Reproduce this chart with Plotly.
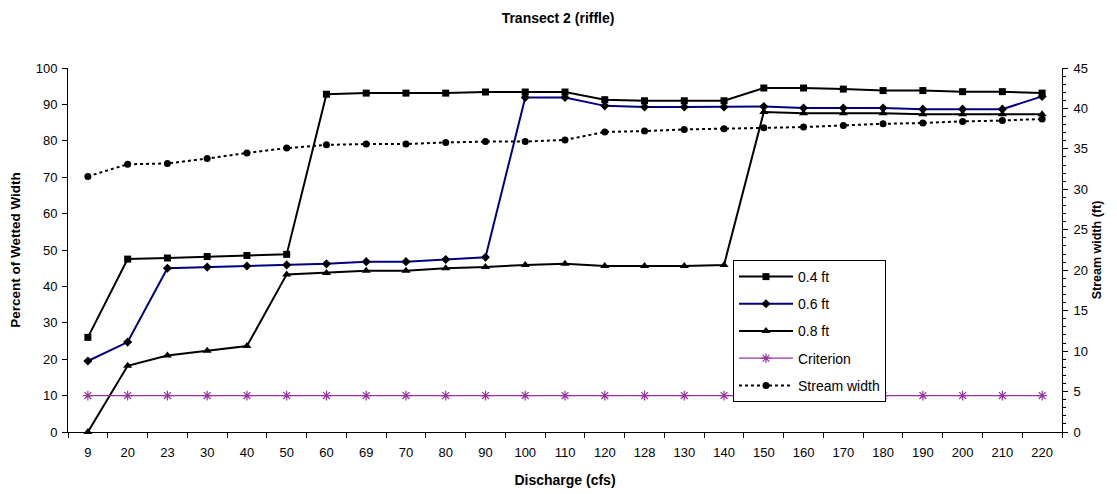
import plotly.graph_objects as go

discharge = ["9", "20", "23", "30", "40", "50", "60", "69", "70", "80", "90", "100", "110",
             "120", "128", "130", "140", "150", "160", "170", "180", "190", "200", "210", "220"]

pct_04 = [26.0, 47.5, 47.8, 48.2, 48.5, 48.8, 92.8, 93.1, 93.1, 93.1, 93.4, 93.4, 93.4,
          91.3, 91.0, 91.0, 91.0, 94.5, 94.5, 94.2, 93.8, 93.8, 93.5, 93.5, 93.1]
pct_06 = [19.5, 24.7, 45.0, 45.3, 45.6, 45.9, 46.2, 46.8, 46.8, 47.4, 48.0, 91.9, 91.9,
          89.6, 89.3, 89.3, 89.3, 89.4, 89.0, 89.0, 89.0, 88.7, 88.7, 88.7, 92.2]
pct_08 = [0.0, 18.2, 21.0, 22.3, 23.6, 43.3, 43.7, 44.3, 44.3, 45.0, 45.3, 45.9, 46.2,
          45.6, 45.6, 45.6, 45.9, 87.9, 87.6, 87.6, 87.6, 87.3, 87.3, 87.3, 87.3]
criterion = [10] * len(discharge)
stream_width = [31.6, 33.1, 33.2, 33.8, 34.5, 35.1, 35.5, 35.6, 35.6, 35.8, 35.9, 35.9, 36.1,
                37.1, 37.2, 37.4, 37.5, 37.6, 37.7, 37.9, 38.1, 38.2, 38.4, 38.5, 38.7]

FONT = "Arial, Liberation Sans, sans-serif"

fig = go.Figure()
fig.add_trace(go.Scatter(x=discharge, y=pct_04, name="0.4 ft", mode="lines+markers",
                         line=dict(color="black", width=2),
                         marker=dict(symbol="square", size=7, color="black"),
                         legendgroup="a", cliponaxis=False))
fig.add_trace(go.Scatter(x=discharge, y=pct_06, name="0.6 ft", mode="lines+markers",
                         line=dict(color="#000080", width=2),
                         marker=dict(symbol="diamond", size=7, color="black"),
                         legendgroup="b", cliponaxis=False))
fig.add_trace(go.Scatter(x=discharge, y=pct_08, name="0.8 ft", mode="lines+markers",
                         line=dict(color="black", width=2),
                         marker=dict(symbol="triangle-up", size=8, color="black"),
                         legendgroup="c", cliponaxis=False))
fig.add_trace(go.Scatter(x=discharge, y=criterion, name="Criterion", mode="lines+markers",
                         line=dict(color="#9933a0", width=1.2),
                         marker=dict(symbol="asterisk-open", size=8,
                                     line=dict(color="#800080", width=1.2)),
                         legendgroup="d"))
fig.add_trace(go.Scatter(x=discharge, y=stream_width, name="Stream width", mode="lines+markers",
                         line=dict(color="black", width=2, dash="dot"),
                         marker=dict(symbol="circle", size=7, color="black"),
                         yaxis="y2", legendgroup="e"))

fig.update_layout(
    width=1109, height=486,
    margin=dict(l=60, r=55, t=60, b=62, autoexpand=False),
    paper_bgcolor="white", plot_bgcolor="white",
    font=dict(family=FONT, size=13, color="black"),
    title=dict(text="<b>Transect 2 (riffle)</b>", x=0.496, xanchor="center",
               yref="container", y=0.979, yanchor="middle",
               font=dict(size=14, family=FONT)),
    showlegend=True,
    legend=dict(x=0.669, y=0.4725, xanchor="left", yanchor="top",
                bordercolor="black", borderwidth=1, bgcolor="white",
                font=dict(size=14, family=FONT), tracegroupgap=6,
                itemwidth=54),
    xaxis=dict(type="category", range=[-0.5, 24.5], autorange=False,
               title=dict(text="<b>Discharge (cfs)</b>", font=dict(size=14), standoff=16),
               showline=True, linecolor="black", linewidth=1, ticks="outside",
               tickson="boundaries", ticklen=5, tickcolor="black", showgrid=False,
               zeroline=False, tickfont=dict(size=13), automargin=False,
               ticklabelstandoff=8),
    yaxis=dict(range=[0, 100], dtick=10,
               title=dict(text="<b>Percent of Wetted Width</b>", font=dict(size=13.5), standoff=13),
               showline=True, linecolor="black", linewidth=1, ticks="outside", ticklen=5,
               tickcolor="black", showgrid=False, zeroline=False, tickfont=dict(size=13),
               automargin=False, ticklabelstandoff=2),
    yaxis2=dict(range=[0, 45], dtick=5, overlaying="y", side="right",
                title=dict(text="<b>Stream width (ft)</b>", font=dict(size=12.5), standoff=5),
                showline=True, linecolor="black", linewidth=1, ticks="outside", ticklen=5,
                tickcolor="black", showgrid=False, zeroline=False, tickfont=dict(size=13),
                automargin=False, ticklabelstandoff=3,
                minor=dict(dtick=1, ticks="outside", ticklen=3, tickcolor="black", showgrid=False)),
)

fig.write_html("out.html")
